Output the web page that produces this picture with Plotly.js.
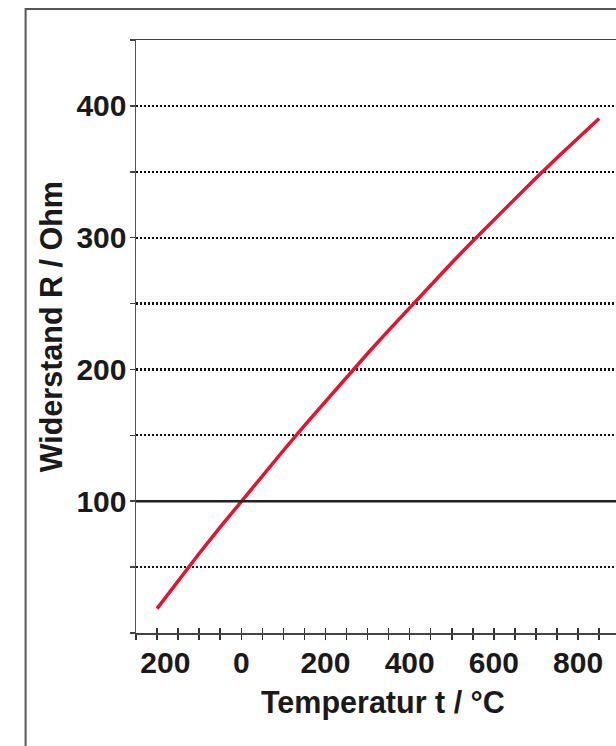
<!DOCTYPE html>
<html>
<head>
<meta charset="utf-8">
<script src="https://cdn.plot.ly/plotly-3.0.1.min.js"></script>
<style>
html,body{margin:0;padding:0;background:#fff;overflow:hidden;}
#chart{width:616px;height:746px;}
</style>
</head>
<body>
<div id="chart"></div>
<script>
// Temperature (°C) and Pt100 resistance (Ohm)
const temperature = [-200, -150, -100, -50, 0, 50, 100, 150, 200, 250, 300, 350, 400, 450, 500, 550, 600, 650, 700, 750, 800, 850];
const resistance = [18.5, 39.7, 60.3, 80.3, 100.0, 119.4, 138.5, 157.3, 175.9, 194.1, 212.1, 229.7, 247.1, 264.2, 281.0, 297.5, 313.7, 329.6, 345.3, 360.6, 375.7, 390.5];

const xTickVals = [-250, -200, -150, -100, -50, 0, 50, 100, 150, 200, 250, 300, 350, 400, 450, 500, 550, 600, 650, 700, 750, 800, 850];
const xTickText = ["", "\u2007200", "", "", "", "0", "", "", "", "200", "", "", "", "400", "", "", "", "600", "", "", "", "800", ""];
const yTickVals = [0, 50, 100, 150, 200, 250, 300, 350, 400, 450];
const yTickText = ["", "", "100", "", "200", "", "300", "", "400", ""];

const xTitle = "Temperatur t / °C";
const yTitle = "Widerstand R / Ohm";

const fontFamily = "'Liberation Sans', Arial, Helvetica, sans-serif";
const axisFont = {family: fontFamily, size: 30, color: "#1a1a1a", weight: "bold"};
const titleFont = {family: fontFamily, size: 30.5, color: "#1a1a1a", weight: "bold"};

const traces = [
  {
    x: temperature, y: resistance, type: "scatter", mode: "lines",
    line: {color: "#e5132b", width: 3.5},
    hoverinfo: "skip", showlegend: false
  },
  {
    x: temperature, y: resistance, type: "scatter", mode: "lines",
    xaxis: "x2", yaxis: "y",
    line: {color: "rgba(0,0,0,0)", width: 0},
    hoverinfo: "skip", showlegend: false
  }
];

const layout = {
  width: 616, height: 746,
  margin: {l: 135.5, r: 0, t: 40, b: 112.5, pad: 0},
  paper_bgcolor: "#ffffff", plot_bgcolor: "#ffffff",
  showlegend: false,
  font: {family: fontFamily},
  xaxis: {
    range: [-250, 890], tickmode: "array", tickvals: xTickVals, ticktext: xTickText,
    ticks: "outside", ticklen: 5, tickwidth: 1.5, tickcolor: "#333",
    ticklabelstandoff: -3,
    showline: true, linecolor: "#444", linewidth: 1.5, mirror: true,
    showgrid: false, zeroline: false,
    tickfont: axisFont
  },
  xaxis2: {
    overlaying: "x", anchor: "y", side: "bottom",
    range: [-250, 890], tickmode: "array", tickvals: xTickVals,
    ticks: "inside", ticklen: 5, tickwidth: 1.5, tickcolor: "#333",
    showticklabels: false, showline: false, showgrid: false, zeroline: false
  },
  yaxis: {
    range: [0, 450], tickmode: "array", tickvals: yTickVals, ticktext: yTickText,
    ticks: "outside", ticklen: 5, tickwidth: 1.5, tickcolor: "#444",
    ticklabelstandoff: -3,
    showline: true, linecolor: "#555", linewidth: 1.5,
    showgrid: true, gridcolor: "#111", gridwidth: 2.2, griddash: "2px,2px",
    zeroline: false,
    tickfont: axisFont
  },
  annotations: [
    {text: xTitle, xref: "paper", yref: "paper", x: 0.515, y: -0.117,
     xanchor: "center", yanchor: "middle", showarrow: false, font: titleFont},
    {text: yTitle, xref: "paper", yref: "paper", x: -0.178, y: 0.5165,
     xanchor: "center", yanchor: "middle", textangle: -90, showarrow: false, font: titleFont}
  ],
  shapes: [
    {type: "line", xref: "paper", yref: "y", x0: 0, x1: 1, y0: 100, y1: 100,
     line: {color: "#222", width: 2.5}, layer: "above"},
    {type: "rect", xref: "paper", yref: "paper", x0: -0.23, x1: 1.2, y0: -0.3, y1: 1.0524,
     line: {color: "#555", width: 2}, fillcolor: "rgba(0,0,0,0)", layer: "above"}
  ]
};

Plotly.newPlot("chart", traces, layout, {staticPlot: true, displayModeBar: false});
</script>
</body>
</html>
